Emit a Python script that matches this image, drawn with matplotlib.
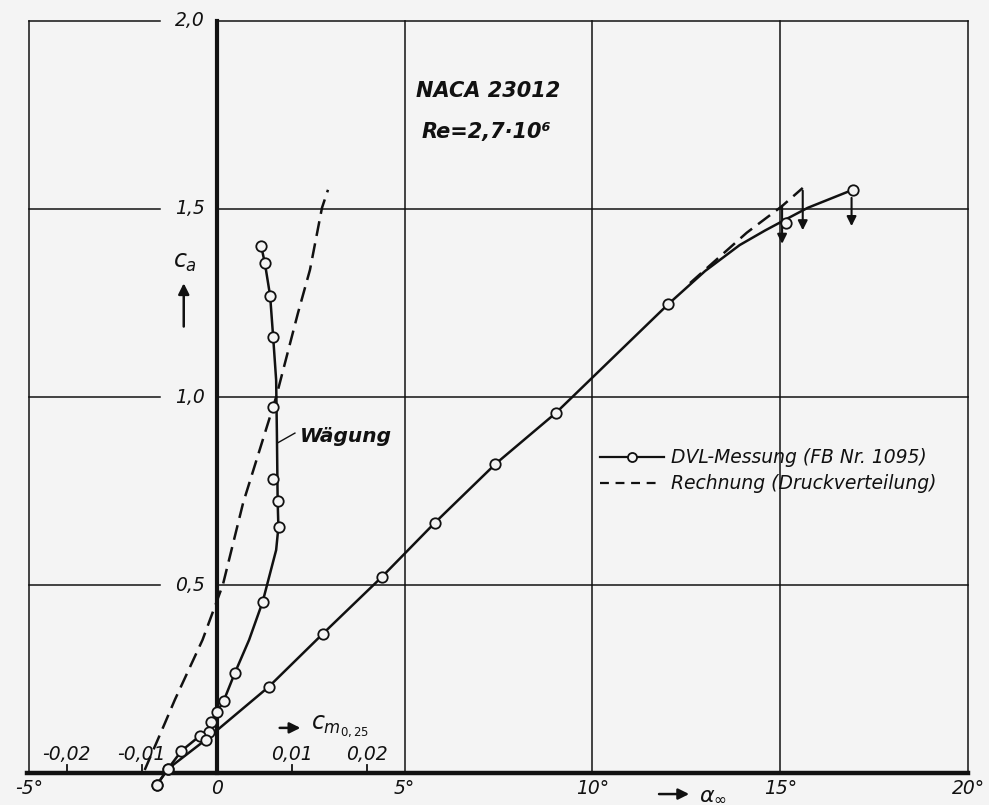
import numpy as np
import matplotlib.pyplot as plt

# DVL measurement, lift coefficient over angle of attack
alpha_meas = [-1.6, -1.3, -0.3, 1.38, 2.82, 4.39, 5.8, 7.42, 9.02, 12.02, 15.16, 16.93]
ca_meas = [-0.032, 0.011, 0.088, 0.229, 0.37, 0.521, 0.665, 0.822, 0.957, 1.247, 1.463, 1.551]

# faired upper part of the measured lift curve
alpha_fair = [12.02, 13.0, 13.92, 14.6, 15.18, 15.73, 16.93]
ca_fair = [1.247, 1.335, 1.404, 1.443, 1.474, 1.503, 1.551]

# calculated lift curve (pressure distribution), where it departs from the measurement
alpha_calc = [12.6, 14.11, 15.04, 15.6]
ca_calc = [1.303, 1.437, 1.507, 1.556]

# stall arrows
stall_alpha = [15.05, 15.6, 16.9]
stall_top = [1.516, 1.556, 1.537]
stall_bottom = [1.40, 1.436, 1.447]

# DVL measurement, moment coefficient c_m0.25 (weighing)
ca_cm_meas = [1.402, 1.356, 1.269, 1.160, 0.973, 0.782, 0.723, 0.654, 0.455, 0.266,
              0.191, 0.162, 0.136, 0.109, 0.098, 0.059, 0.011, -0.032]
cm_meas = [0.0059, 0.0064, 0.0071, 0.0075, 0.0075, 0.0075, 0.0081, 0.0083, 0.0061, 0.0024,
           0.0009, 0.0, -0.0008, -0.0011, -0.0023, -0.0047, -0.0065, -0.0080]

# faired moment curve
ca_cm_fair = [1.402, 1.356, 1.269, 1.160, 1.045, 0.904, 0.723, 0.654, 0.593, 0.455, 0.354,
              0.266, 0.191, 0.162, 0.136, 0.109, 0.098, 0.059, 0.011, -0.032]
cm_fair = [0.0059, 0.0064, 0.0071, 0.0075, 0.0079, 0.0080, 0.0081, 0.0082, 0.0079, 0.0061,
           0.0043, 0.0024, 0.0009, 0.0, -0.0008, -0.0011, -0.0023, -0.0047, -0.0065, -0.0080]

# calculated moment curve
ca_cm_calc = [0.008, 0.133, 0.194, 0.354, 0.5, 0.718, 1.0, 1.223, 1.338, 1.503, 1.551]
cm_calc = [-0.0096, -0.0069, -0.0056, -0.0019, 0.0008, 0.0035, 0.0079, 0.0108, 0.0124, 0.0140, 0.0148]

alpha_ticks = [-5, 0, 5, 10, 15, 20]
alpha_labels = ["-5°", "0", "5°", "10°", "15°", "20°"]
ca_ticks = [0.5, 1.0, 1.5, 2.0]
ca_labels = ["0,5", "1,0", "1,5", "2,0"]
cm_ticks = [-0.02, -0.01, 0.01, 0.02]
cm_labels = ["-0,02", "-0,01", "0,01", "0,02"]

CM_TO_DEG = 200.0  # 0,01 of c_m is drawn as 2 degrees

bg = "#f4f4f4"
plt.rcParams["font.family"] = ["DejaVu Sans"]
fig = plt.figure(figsize=(9.89, 8.05), dpi=100)
fig.patch.set_facecolor(bg)
ax = fig.add_axes([29 / 989, 32 / 805, 939 / 989, 752 / 805])
ax.set_xlim(-5, 20)
ax.set_ylim(0, 2)
ax.axis("off")

k = "#111111"
grid_kw = dict(color=k, lw=1.1, clip_on=False, zorder=1)
for y in ca_ticks:
    ax.plot([-5, -1.52], [y, y], **grid_kw)
    ax.plot([0, 20], [y, y], **grid_kw)
for x in alpha_ticks:
    if x != 0:
        ax.plot([x, x], [0, 2], **grid_kw)
ax.plot([0, 0], [0, 2], color=k, lw=3.0, clip_on=False, zorder=2)
ax.plot([-5.05, 20], [0, 0], color=k, lw=3.2, clip_on=False, zorder=2)

# tick labels
txt = dict(fontsize=13.5, style="oblique", color=k)
for x, lab in zip(alpha_ticks, alpha_labels):
    ax.text(x, -0.042, lab, ha="center", va="center", **txt)
for y, lab in zip(ca_ticks, ca_labels):
    ax.text(-0.33, y, lab, ha="right", va="center", **txt)
for c, lab in zip(cm_ticks, cm_labels):
    ax.plot([c * CM_TO_DEG] * 2, [0, 0.022], color=k, lw=1.3, zorder=2)
    ax.text(c * CM_TO_DEG, 0.05, lab, ha="center", va="center", **txt)

# axis names
ax.text(-0.85, 1.36, r"$c_a$", ha="center", va="center", fontsize=17, color=k)
ax.annotate("", xy=(-0.88, 1.31), xytext=(-0.88, 1.18),
            arrowprops=dict(arrowstyle="-|>", color=k, lw=1.8, mutation_scale=16))
ax.annotate("", xy=(2.3, 0.12), xytext=(1.6, 0.12),
            arrowprops=dict(arrowstyle="-|>", color=k, lw=1.8, mutation_scale=16))
ax.text(2.5, 0.125, r"$c_{m_{0,25}}$", ha="left", va="center", fontsize=17, color=k)
ax.annotate("", xy=(12.65, -0.056), xytext=(11.7, -0.056), annotation_clip=False,
            arrowprops=dict(arrowstyle="-|>", color=k, lw=1.8, mutation_scale=16))
ax.text(12.85, -0.058, r"$\alpha_\infty$", ha="left", va="center", fontsize=16, color=k)

# moment curves
ax.plot(np.array(cm_fair) * CM_TO_DEG, ca_cm_fair, color=k, lw=1.8, zorder=3, clip_on=False)
ax.plot(np.array(cm_meas) * CM_TO_DEG, ca_cm_meas, ls="none", marker="o", ms=7.5,
        mfc=bg, mec=k, mew=1.3, zorder=4, clip_on=False)
ax.plot(np.array(cm_calc) * CM_TO_DEG, ca_cm_calc, color=k, lw=1.8, dashes=(6, 3), zorder=3)

# lift curves
i_top = alpha_meas.index(alpha_fair[0])
ax.plot(alpha_meas[:i_top] + alpha_fair, ca_meas[:i_top] + ca_fair, color=k, lw=1.8,
        zorder=3, clip_on=False)
ax.plot(alpha_meas, ca_meas, ls="none", marker="o", ms=7.5, mfc=bg, mec=k, mew=1.3,
        zorder=4, clip_on=False)
ax.plot(alpha_calc, ca_calc, color=k, lw=1.8, dashes=(6, 3), zorder=3)
for a, t, b in zip(stall_alpha, stall_top, stall_bottom):
    ax.annotate("", xy=(a, b), xytext=(a, t),
                arrowprops=dict(arrowstyle="-|>", color=k, lw=1.5, mutation_scale=14))

# annotations
ax.text(5.3, 1.815, "NACA 23012", fontsize=15, weight="bold", style="oblique",
        ha="left", va="center", color=k)
ax.text(5.45, 1.705, "Re=2,7·10⁶", fontsize=15, weight="bold", style="oblique",
        ha="left", va="center", color=k)
ax.plot([1.62, 2.08], [0.878, 0.904], color=k, lw=1.0)
ax.text(2.2, 0.894, "Wägung", fontsize=14.5, weight="bold", style="oblique",
        ha="left", va="center", color=k)

# legend
ax.plot([10.2, 11.9], [0.84, 0.84], color=k, lw=1.6)
ax.plot([11.05], [0.84], marker="o", ms=6.5, mfc=bg, mec=k, mew=1.3)
ax.plot([10.2, 11.7], [0.77, 0.77], color=k, lw=1.6, dashes=(4, 3))
ax.text(12.1, 0.84, "DVL-Messung (FB Nr. 1095)", ha="left", va="center", **txt)
ax.text(12.1, 0.77, "Rechnung (Druckverteilung)", ha="left", va="center", **txt)

fig.savefig("out.png", dpi=100, facecolor=bg)
